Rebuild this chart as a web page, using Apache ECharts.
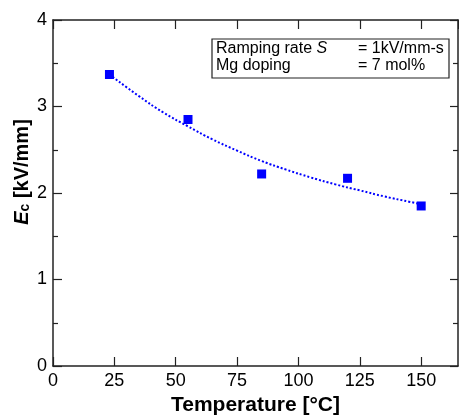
<!DOCTYPE html>
<html>
<head>
<meta charset="utf-8">
<script src="https://cdn.jsdelivr.net/npm/echarts@6/dist/echarts.min.js"></script>
<style>
  html, body { margin: 0; padding: 0; background: #fff; }
  #chart { width: 459px; height: 416px; }
</style>
</head>
<body>
<div id="chart"></div>
<script>
// measured points
var temps = [23, 55, 85, 120, 150];
var ecValues = [3.37, 2.85, 2.22, 2.17, 1.85];
// fitted curve
var fitTemps = [23, 35, 45, 55, 65, 75, 85, 95, 105, 115, 125, 135, 145, 150];
var fitValues = [3.37, 3.12, 2.93, 2.77, 2.62, 2.49, 2.37, 2.27, 2.18, 2.1, 2.03, 1.96, 1.9, 1.87];
var xTicks = [0, 25, 50, 75, 100, 125, 150];
var yTicks = [0, 1, 2, 3, 4];

var font = "'Liberation Sans', Arial, sans-serif";
var axisCol = "#222";

var chart = echarts.init(document.getElementById("chart"));

var tickStyle = { color: axisCol, width: 1.2 };
var lineStyle = { color: axisCol, width: 1.5 };

var option = {
  animation: false,
  grid: { left: 53, right: 1, top: 20, bottom: 50, outerBoundsMode: "none", containLabel: false },
  xAxis: [
    {
      type: "value",
      min: 0,
      max: 165,
      interval: 25,
      name: "Temperature [°C]",
      nameLocation: "middle",
      nameGap: 28,
      nameTextStyle: { fontFamily: font, fontSize: 21, fontWeight: "bold", color: "#000" },
      axisLine: { onZero: false, lineStyle: lineStyle },
      axisTick: { inside: true, length: 9, lineStyle: tickStyle },
      axisLabel: {
        fontFamily: font, fontSize: 18, color: "#000", margin: 6,
        showMaxLabel: false,
        formatter: function (v) { return xTicks.indexOf(v) >= 0 ? String(v) : ""; }
      },
      splitLine: { show: false }
    },
    {
      type: "value",
      position: "top",
      min: 0,
      max: 165,
      interval: 25,
      axisLine: { onZero: false, lineStyle: lineStyle },
      axisTick: { inside: true, length: 9, lineStyle: tickStyle },
      axisLabel: { show: false },
      splitLine: { show: false }
    }
  ],
  yAxis: [
    {
      type: "value",
      min: 0,
      max: 4,
      interval: 1,
      axisLine: { show: true, onZero: false, lineStyle: lineStyle },
      axisTick: { show: true, inside: true, length: 9, lineStyle: tickStyle },
      minorTick: { show: true, splitNumber: 2, length: 5, lineStyle: tickStyle },
      axisLabel: {
        fontFamily: font, fontSize: 18, color: "#000", margin: 6,
        formatter: function (v) { return yTicks.indexOf(v) >= 0 ? String(v) : ""; }
      },
      splitLine: { show: false }
    },
    {
      type: "value",
      position: "right",
      min: 0,
      max: 4,
      interval: 1,
      axisLine: { show: true, onZero: false, lineStyle: lineStyle },
      axisTick: { show: true, inside: true, length: 8, lineStyle: tickStyle },
      minorTick: { show: true, splitNumber: 2, length: 5, lineStyle: tickStyle },
      axisLabel: { show: false },
      splitLine: { show: false }
    }
  ],
  graphic: [
    {
      // y axis title
      type: "text",
      x: 22, y: 172, rotation: Math.PI / 2, z: 101,
      style: {
        text: "{i|E}{s|c}{b| [kV/mm]}",
        align: "center", verticalAlign: "middle",
        rich: {
          i: { fontFamily: font, fontSize: 20, fontWeight: "bold", fontStyle: "italic", fill: "#000" },
          s: { fontFamily: font, fontSize: 14, fontWeight: "bold", fill: "#000", verticalAlign: "bottom", padding: [4, 0, 0, 0] },
          b: { fontFamily: font, fontSize: 20, fontWeight: "bold", fill: "#000" }
        }
      }
    },
    {
      type: "rect",
      shape: { x: 212, y: 39, width: 237, height: 39 },
      style: { fill: "#fff", stroke: "#222", lineWidth: 1.2 },
      z: 100
    },
    {
      type: "text",
      left: 216, top: 41, z: 101,
      style: {
        text: "Ramping rate {i|S}",
        font: "16px " + font, fill: "#000",
        rich: { i: { fontStyle: "italic", fontSize: 16, fontFamily: font, fill: "#000" } }
      }
    },
    {
      type: "text",
      left: 216, top: 58, z: 101,
      style: { text: "Mg doping", font: "16px " + font, fill: "#000" }
    },
    {
      type: "text",
      left: 358, top: 41, z: 101,
      style: { text: "= 1kV/mm-s", font: "16px " + font, fill: "#000" }
    },
    {
      type: "text",
      left: 358, top: 58, z: 101,
      style: { text: "= 7 mol%", font: "16px " + font, fill: "#000" }
    }
  ],
  series: [
    {
      type: "line",
      data: fitTemps.map(function (t, i) { return [t, fitValues[i]]; }),
      smooth: true,
      showSymbol: false,
      symbol: "none",
      lineStyle: { color: "#0000ff", width: 2, type: [2, 2] },
      z: 2
    },
    {
      type: "scatter",
      data: temps.map(function (t, i) { return [t, ecValues[i]]; }),
      symbol: "rect",
      symbolSize: 9,
      itemStyle: { color: "#0000ff", opacity: 1 },
      z: 3
    }
  ]
};

chart.setOption(option);
</script>
</body>
</html>
